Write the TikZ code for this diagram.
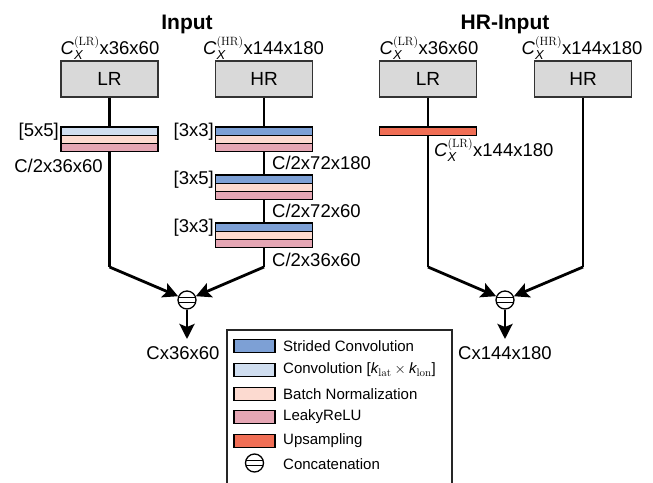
\documentclass[tikz,border=0pt]{standalone}
\usepackage{amsmath}
\usepackage[no-math]{fontspec}
\setmainfont{Liberation Sans}
\usetikzlibrary{arrows.meta}
\definecolor{sconv}{RGB}{125,160,213}
\definecolor{conv}{RGB}{208,222,240}
\definecolor{bnorm}{RGB}{252,218,208}
\definecolor{lrelu}{RGB}{229,166,180}
\definecolor{upsamp}{RGB}{240,110,85}
\definecolor{boxgray}{RGB}{217,217,217}
\newcommand{\CX}[1]{$\textit{C}_{\textit{X}}^{\mathrm{(#1)}}$}
\begin{document}
\begin{tikzpicture}[x=1pt,y=-1pt,
  inbox/.style={draw=black!80,line width=1.4pt,fill=boxgray,minimum width=97pt,minimum height=36pt,inner sep=0pt,font=\fontsize{19}{22}\selectfont},
  bar/.style={draw=black,line width=1.3pt,minimum width=97pt,minimum height=8.3pt,inner sep=0pt},
  lbl/.style={inner sep=0pt,font=\fontsize{18.5}{22}\selectfont},
  ttl/.style={inner sep=0pt,font=\fontsize{21}{24}\selectfont\bfseries},
  leg/.style={inner sep=0pt,anchor=west,font=\fontsize{15}{18}\selectfont},
  swatch/.style={draw=black,line width=1.3pt,minimum width=41pt,minimum height=13pt,inner sep=0pt},
  conn/.style={line width=2.8pt},
  arr/.style={line width=2.8pt,-{Stealth[length=15pt,width=15pt,inset=3pt]}},
  catc/.style={draw=black,line width=1.3pt,circle,minimum size=18pt,inner sep=0pt,fill=white,
    path picture={\draw[line width=1.3pt] ([yshift=2.3pt]path picture bounding box.west) -- ([yshift=2.3pt]path picture bounding box.east);
                  \draw[line width=1.3pt] ([yshift=-2.3pt]path picture bounding box.west) -- ([yshift=-2.3pt]path picture bounding box.east);}}
]
\useasboundingbox (0,0) rectangle (653,482);

% titles
\node[ttl,anchor=base] (t1) at (187,29.5) {Input};
\node[ttl,anchor=base] (t2) at (505,29.5) {HR-Input};

% input boxes
\node[inbox] (lr1) at (109.5,79) {LR};
\node[inbox] (hr1) at (264,79) {HR};
\node[inbox] (lr2) at (428,79) {LR};
\node[inbox] (hr2) at (583,79) {HR};

\node[lbl,anchor=base] (lr1t) at (110,54) {\CX{LR}x36x60};
\node[lbl,anchor=base] (hr1t) at (263.5,54) {\CX{HR}x144x180};
\node[lbl,anchor=base] (lr2t) at (429,54) {\CX{LR}x36x60};
\node[lbl,anchor=base] (hr2t) at (582,54) {\CX{HR}x144x180};

% coordinates
\coordinate (k1) at (109.5,267);
\coordinate (k2) at (264,267);
\coordinate (k3) at (428,267);
\coordinate (k4) at (583,267);
\node[catc] (c1) at (187,300) {};
\node[catc] (c2) at (505,300) {};
\coordinate (o1) at (187,339);
\coordinate (o2) at (505,339);

% connectors (behind bars)
\draw[conn] (lr1.south) -- (k1);
\draw[conn] (hr1.south) -- (k2);
\draw[conn] (lr2.south) -- (k3);
\draw[conn] (hr2.south) -- (k4);
\draw[arr] (k1) -- (c1);
\draw[arr] (k2) -- (c1);
\draw[arr] (k3) -- (c2);
\draw[arr] (k4) -- (c2);
\draw[arr] (c1.south) -- (o1);
\draw[arr] (c2.south) -- (o2);

% LR stack
\node[bar,fill=conv]  (l1a) at (109.5,131.1) {};
\node[bar,fill=bnorm] (l1b) at (109.5,139.3) {};
\node[bar,fill=lrelu] (l1c) at (109.5,147.5) {};
% HR stacks
\node[bar,fill=sconv] (h1a) at (264,131.1) {};
\node[bar,fill=bnorm] (h1b) at (264,139.3) {};
\node[bar,fill=lrelu] (h1c) at (264,147.5) {};
\node[bar,fill=sconv] (h2a) at (264,179.1) {};
\node[bar,fill=bnorm] (h2b) at (264,187.3) {};
\node[bar,fill=lrelu] (h2c) at (264,195.5) {};
\node[bar,fill=sconv] (h3a) at (264,227.1) {};
\node[bar,fill=bnorm] (h3b) at (264,235.3) {};
\node[bar,fill=lrelu] (h3c) at (264,243.5) {};
% upsampling
\node[bar,fill=upsamp] (u1) at (428,131) {};

% kernel labels
\node[lbl,anchor=east] (k55) at (59,131.5) {[5x5]};
\node[lbl,anchor=east] (k33a) at (214,131.5) {[3x3]};
\node[lbl,anchor=east] (k35) at (214,180) {[3x5]};
\node[lbl,anchor=east] (k33b) at (214,228) {[3x3]};

% size labels
\node[lbl] (s1) at (58.5,166) {C/2x36x60};
\node[lbl,anchor=west] (s2) at (272,163) {C/2x72x180};
\node[lbl,anchor=west] (s3) at (272,211) {C/2x72x60};
\node[lbl,anchor=west] (s4) at (272,260) {C/2x36x60};
\node[lbl,anchor=west] (s5) at (434,150) {\CX{LR}x144x180};

% outputs
\node[lbl] (out1) at (183,353) {Cx36x60};
\node[lbl] (out2) at (505,353) {Cx144x180};

% legend
\draw[line width=1.2pt,draw=black!85] (227,483) -- (227,330) -- (452,330) -- (452,483);
\node[swatch,fill=sconv]  (g1) at (254.5,346) {};
\node[swatch,fill=conv]   (g2) at (254.5,370) {};
\node[swatch,fill=bnorm]  (g3) at (254.5,394) {};
\node[swatch,fill=lrelu]  (g4) at (254.5,417) {};
\node[swatch,fill=upsamp] (g5) at (254.5,441) {};
\node[catc] (g6) at (254.5,463) {};
\node[leg] (gt1) at (283,346) {Strided Convolution};
\node[leg] (gt2) at (283,370) {Convolution [$\textit{k}_{\mathrm{lat}}\times\textit{k}_{\mathrm{lon}}$]};
\node[leg] (gt3) at (283,394) {Batch Normalization};
\node[leg] (gt4) at (283,417) {LeakyReLU};
\node[leg] (gt5) at (283,441) {Upsampling};
\node[leg] (gt6) at (283,464) {Concatenation};
\end{tikzpicture}
\end{document}
